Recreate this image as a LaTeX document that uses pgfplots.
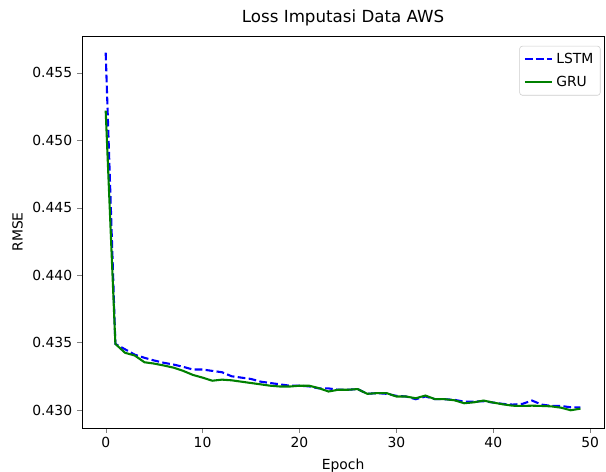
\documentclass[border=0pt]{standalone}
\usepackage{fontspec}
\setmainfont{DejaVu Sans}
\usepackage{pgfplots}
\pgfplotsset{compat=1.18}

\pgfplotstableread{
epoch lstm gru
0 0.4565 0.4522
1 0.4349 0.4349
2 0.4345 0.43424
3 0.4341 0.43404
4 0.43387 0.43354
5 0.43367 0.43344
6 0.4335 0.4333
7 0.43337 0.43314
8 0.4332 0.4329
9 0.4330 0.4326
10 0.4330 0.4324
11 0.4329 0.43217
12 0.4328 0.43225
13 0.4325 0.4322
14 0.4324 0.4321
15 0.4323 0.4320
16 0.4321 0.4319
17 0.4320 0.4318
18 0.4319 0.43174
19 0.4318 0.43174
20 0.4318 0.4318
21 0.43175 0.4318
22 0.4316 0.43162
23 0.4316 0.43137
24 0.4315 0.4315
25 0.4315 0.4315
26 0.43155 0.43155
27 0.4312 0.4312
28 0.43125 0.43125
29 0.4312 0.43125
30 0.43105 0.4310
31 0.4310 0.4310
32 0.4308 0.43087
33 0.4310 0.43107
34 0.4308 0.4308
35 0.4308 0.4308
36 0.43075 0.43072
37 0.43062 0.4305
38 0.43062 0.43057
39 0.43065 0.4307
40 0.43055 0.43055
41 0.43045 0.43042
42 0.4304 0.43032
43 0.43045 0.4303
44 0.4307 0.43032
45 0.4304 0.4303
46 0.4303 0.43027
47 0.4303 0.43017
48 0.4302 0.42998
49 0.4302 0.4301
}\losstable

\begin{document}
\begin{tikzpicture}
\begin{axis}[
    at={(0,0)}, anchor=south west,
    scale only axis,
    width=376pt, height=282pt,
    xmin=-2.45, xmax=51.45,
    ymin=0.42868, ymax=0.45772,
    xtick={0,10,20,30,40,50},
    ytick={0.430,0.435,0.440,0.445,0.450,0.455},
    scaled y ticks=false,
    yticklabel style={/pgf/number format/fixed, /pgf/number format/precision=3, /pgf/number format/fixed zerofill},
    /pgf/number format/assume math mode=true,
    tick align=outside,
    major tick length=3.5pt,
    xtick pos=bottom, ytick pos=left,
    tick label style={font=\fontsize{10}{12}\selectfont},
    title={Loss Imputasi Data AWS},
    title style={font=\fontsize{12}{14}\selectfont, yshift=-2pt},
    xlabel={Epoch}, ylabel={RMSE},
    label style={font=\fontsize{10}{12}\selectfont},
    xlabel style={yshift=-1pt},
    legend style={at={(0.993,0.975)}, anchor=north east, draw=black!20, rounded corners=2pt,
        font=\fontsize{10}{12}\selectfont, row sep=3.5pt, inner ysep=3pt},
    legend cell align=left,
    legend image code/.code={\draw[#1] (0cm,0cm) -- (0.7cm,0cm);},
]
\addplot[blue, line width=1.5pt, dash pattern=on 5.55pt off 2.4pt] table[x=epoch, y=lstm] {\losstable};
\addlegendentry{LSTM}
\addplot[green!50!black, line width=1.5pt] table[x=epoch, y=gru] {\losstable};
\addlegendentry{GRU}
\end{axis}
\pgfresetboundingbox
\path (-59pt,-31.7pt) rectangle (377.3pt,308pt);
\end{tikzpicture}
\end{document}
